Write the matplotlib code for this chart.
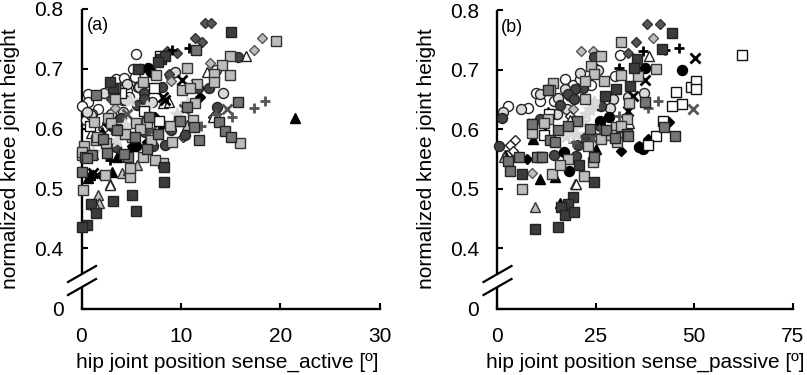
# plot.py
import matplotlib
matplotlib.use("Agg")
import matplotlib.pyplot as plt

plt.rcParams['font.family'] = ['Liberation Sans', 'DejaVu Sans']

# === Panel (a) data: hip joint position sense_active ===
a_wcirc_x = [5.5, 5.2, 3.5, 4.3, 5.4, 0.7, 0.7, 0.03, 1.7, 4.4, 4.6, 3.9, 4.8, 5.7, 13.5, 4.2, 8.9, 0.5, 1.1]
a_wcirc_y = [0.724, 0.700, 0.683, 0.684, 0.687, 0.658, 0.645, 0.638, 0.632, 0.670, 0.662, 0.653, 0.653, 0.670, 0.698, 0.648, 0.689, 0.615, 0.625]
a_lcirc_x = [9.4, 14.2, 2.3, 1.0, 4.6, 5.8, 4.2, 7.1, 4.4, 0.6, 3.0, 6.0]
a_lcirc_y = [0.694, 0.659, 0.659, 0.622, 0.675, 0.670, 0.628, 0.645, 0.648, 0.628, 0.625, 0.640]
a_dcirc_x = [15.8, 12.8, 11.7, 13.6, 8.15, 6.3, 6.3, 5.6, 4.0, 3.5, 8.4, 10.4, 9.0, 2.0, 6.4, 7.2]
a_dcirc_y = [0.719, 0.668, 0.668, 0.636, 0.669, 0.659, 0.649, 0.640, 0.617, 0.569, 0.572, 0.589, 0.597, 0.585, 0.595, 0.570]
a_bcirc_x = [6.7, 5.9, 7.0, 3.1, 5.5]
a_bcirc_y = [0.701, 0.700, 0.694, 0.605, 0.570]

a_ddiam_x = [12.4, 13.0, 11.4, 12.1, 9.6, 8.6, 8.8, 3.0]
a_ddiam_y = [0.776, 0.776, 0.751, 0.745, 0.726, 0.729, 0.692, 0.650]
a_ldiam_x = [18.2, 17.4, 12.9, 3.4, 5.7, 9.0]
a_ldiam_y = [0.752, 0.731, 0.710, 0.634, 0.640, 0.680]
a_wdiam_x = [13.2, 10.2, 6.4, 13.5, 2.2, 4.5]
a_wdiam_y = [0.620, 0.585, 0.615, 0.625, 0.600, 0.590]
a_bdiam_x = [11.9, 5.1, 6.6, 2.6, 1.0, 7.4]
a_bdiam_y = [0.653, 0.570, 0.578, 0.609, 0.604, 0.620]

a_btri_x = [21.5, 0.7, 3.05, 5.1, 5.2, 2.05, 8.2, 3.6, 0.9]
a_btri_y = [0.617, 0.517, 0.528, 0.572, 0.570, 0.595, 0.610, 0.552, 0.522]
a_gtri_x = [4.06, 1.7, 1.8, 2.9, 5.6, 1.2, 10.6, 4.7, 7.7]
a_gtri_y = [0.525, 0.489, 0.476, 0.508, 0.539, 0.558, 0.606, 0.530, 0.590]
a_wtri_x = [16.6, 8.25, 8.8, 12.6, 2.9, 1.0, 13.2, 1.4]
a_wtri_y = [0.721, 0.642, 0.645, 0.695, 0.505, 0.592, 0.620, 0.472]

a_bx_x = [10.1, 8.25, 8.4, 1.2, 1.6, 4.0]
a_bx_y = [0.681, 0.653, 0.648, 0.525, 0.522, 0.596]
a_gx_x = [14.6, 10.3, 4.6, 11.5, 7.0]
a_gx_y = [0.633, 0.633, 0.625, 0.675, 0.596]
a_bplus_x = [10.8, 9.1, 7.75, 2.9, 8.3]
a_bplus_y = [0.735, 0.731, 0.717, 0.547, 0.719]
a_gplus_x = [18.5, 17.4, 15.2, 12.0, 13.5]
a_gplus_y = [0.646, 0.634, 0.620, 0.604, 0.625]
a_star_x = [6.6, 4.4, 4.4, 9.6, 3.55, 1.2, 10.6, 4.9, 4.1]
a_star_y = [0.636, 0.606, 0.597, 0.625, 0.581, 0.561, 0.642, 0.648, 0.590]

a_wsq_x = [7.9, 0.87, 7.25, 6.3, 4.0, 7.8]
a_wsq_y = [0.721, 0.604, 0.667, 0.630, 0.660, 0.612]
a_lsq_x = [19.6, 14.9, 14.9, 14.1, 13.3, 10.6, 10.1, 11.4, 9.8, 16.0, 11.2, 9.1, 8.2, 7.35, 6.2, 4.9, 4.9, 2.4, 0.2, 0.3,
           0.03, 1.5, 1.3, 2.7, 3.4, 3.5, 6.6, 7.5, 6.2, 5.1, 5.5, 11.6, 13.3, 10.9, 0.1, 1.6, 4.4, 2.5, 5.9, 8.9, 3.0, 7.0]
a_lsq_y = [0.746, 0.721, 0.689, 0.706, 0.691, 0.701, 0.664, 0.643, 0.612, 0.576, 0.615, 0.577, 0.542, 0.547, 0.553, 0.519, 0.534, 0.522, 0.497, 0.571,
           0.556, 0.581, 0.611, 0.617, 0.649, 0.600, 0.610, 0.689, 0.678, 0.586, 0.610, 0.675, 0.678, 0.667, 0.560, 0.585, 0.590, 0.575, 0.600, 0.605, 0.610, 0.580]
a_msq_x = [15.8, 11.8, 13.8, 14.4, 15.0, 11.5, 1.5, 3.4, 5.4, 7.75, 6.6, 4.7, 2.55, 0.37, 0.03, 2.2, 3.55, 11.3, 9.9, 10.6, 1.1, 6.8, 4.3, 0.6]
a_msq_y = [0.644, 0.581, 0.611, 0.596, 0.586, 0.732, 0.656, 0.667, 0.586, 0.591, 0.565, 0.553, 0.559, 0.553, 0.527, 0.582, 0.598, 0.603, 0.613, 0.636, 0.555, 0.620, 0.558, 0.550]
a_dsq_x = [15.1, 8.32, 8.32, 5.07, 3.15, 5.47, 0.94, 1.44, 0.6, 0.03, 8.0, 5.7, 3.2, 2.9, 8.4, 7.7]
a_dsq_y = [0.762, 0.536, 0.510, 0.489, 0.479, 0.462, 0.473, 0.458, 0.438, 0.435, 0.717, 0.700, 0.667, 0.678, 0.722, 0.712]

# === Panel (b) data: hip joint position sense_passive ===
b_wcirc_x = [31.1, 30.0, 17.2, 10.9, 10.0, 7.9, 2.9, 19.3, 23.9, 21.0, 18.5, 14.5, 24.5]
b_wcirc_y = [0.724, 0.689, 0.684, 0.648, 0.660, 0.635, 0.639, 0.674, 0.674, 0.684, 0.655, 0.648, 0.702]
b_lcirc_x = [6.0, 1.6, 21.1, 25.6, 37.2, 33.2, 29.4, 28.7, 25.6, 17.3, 17.8, 15.1, 10.9, 15.5]
b_lcirc_y = [0.634, 0.628, 0.695, 0.699, 0.660, 0.654, 0.650, 0.636, 0.640, 0.668, 0.634, 0.625, 0.659, 0.653]
b_dcirc_x = [0.5, 1.3, 24.5, 21.8, 19.7, 18.0, 19.4, 15.9, 10.9, 20.5, 14.5, 20.1, 23.5, 26.0, 26.4, 22.0]
b_dcirc_y = [0.571, 0.619, 0.721, 0.669, 0.667, 0.659, 0.651, 0.641, 0.617, 0.574, 0.556, 0.555, 0.592, 0.606, 0.638, 0.585]
b_bcirc_x = [46.8, 37.5, 36.0, 37.0, 26.0, 28.5, 16.9, 18.2]
b_bcirc_y = [0.699, 0.702, 0.570, 0.566, 0.614, 0.620, 0.562, 0.529]

b_ddiam_x = [38.0, 41.2, 35.3, 33.2]
b_ddiam_y = [0.776, 0.776, 0.747, 0.727]
b_ldiam_x = [21.3, 24.2, 39.6, 8.75, 19.3]
b_ldiam_y = [0.732, 0.732, 0.753, 0.527, 0.634]
b_wdiam_x = [4.5, 3.3, 4.1, 2.6, 18.4]
b_wdiam_y = [0.582, 0.573, 0.564, 0.556, 0.622]
b_bdiam_x = [31.5, 43.5, 35.9, 38.2, 7.5]
b_bdiam_y = [0.564, 0.612, 0.572, 0.584, 0.550]

b_btri_x = [10.9, 2.0, 13.0, 9.2, 14.6, 15.9, 25.2, 12.1]
b_btri_y = [0.517, 0.556, 0.629, 0.584, 0.520, 0.476, 0.567, 0.595]
b_gtri_x = [9.6, 19.7, 12.7, 1.8]
b_gtri_y = [0.469, 0.508, 0.625, 0.553]
b_wtri_x = [38.5, 18.4, 20.0, 33.5]
b_wtri_y = [0.722, 0.616, 0.508, 0.610]

b_bx_x = [50.1, 37.5, 34.4, 33.3]
b_bx_y = [0.719, 0.683, 0.655, 0.631]
b_gx_x = [49.7, 26.9, 24.0]
b_gx_y = [0.634, 0.598, 0.585]
b_bplus_x = [46.2, 42.6, 37.1, 30.8]
b_bplus_y = [0.736, 0.733, 0.732, 0.702]
b_gplus_x = [40.9, 38.2, 30.9, 19.3, 26.0]
b_gplus_y = [0.648, 0.635, 0.622, 0.578, 0.592]
b_star_x = [23.5, 24.7, 22.6, 18.9, 20.1, 24.0, 21.8, 17.5]
b_star_y = [0.634, 0.645, 0.625, 0.600, 0.592, 0.640, 0.612, 0.588]

b_wsq_x = [62.0, 45.4, 49.2, 50.3, 50.3, 47.0, 44.4, 42.0, 40.3, 38.2, 13.2, 12.0]
b_wsq_y = [0.724, 0.663, 0.670, 0.680, 0.667, 0.643, 0.638, 0.614, 0.589, 0.574, 0.625, 0.590]
b_lsq_x = [14.2, 31.4, 26.3, 23.9, 24.7, 27.0, 22.2, 22.2, 13.4, 40.3, 35.7, 31.3, 33.4, 32.9, 30.2, 30.5, 26.4, 23.1, 13.0,
           8.75, 8.75, 14.0, 18.0, 15.9, 22.0, 6.4, 24.3, 10.9, 29.0, 31.5, 11.8]
b_lsq_y = [0.677, 0.747, 0.723, 0.706, 0.692, 0.680, 0.680, 0.651, 0.665, 0.701, 0.690, 0.691, 0.644, 0.617, 0.603, 0.578, 0.584, 0.572, 0.617,
           0.609, 0.593, 0.524, 0.550, 0.539, 0.521, 0.500, 0.545, 0.553, 0.590, 0.605, 0.610]
b_msq_x = [45.2, 42.3, 37.6, 20.3, 15.5, 13.4, 2.9, 3.3, 5.6, 10.2, 11.5, 24.7, 33.0, 23.5, 8.8, 13.0, 18.0, 27.5, 30.0, 14.6, 33.2]
b_msq_y = [0.588, 0.604, 0.646, 0.613, 0.599, 0.582, 0.546, 0.529, 0.553, 0.553, 0.554, 0.554, 0.592, 0.600, 0.609, 0.665, 0.605, 0.598, 0.585, 0.578, 0.588]
b_dsq_x = [44.4, 41.8, 35.4, 34.8, 33.8, 30.2, 24.5, 20.8, 19.3, 18.0, 16.3, 17.2, 19.5, 15.5, 9.6, 27.3, 6.4]
b_dsq_y = [0.762, 0.735, 0.718, 0.702, 0.672, 0.668, 0.512, 0.539, 0.486, 0.475, 0.469, 0.456, 0.461, 0.436, 0.433, 0.656, 0.525]

# === Style for each series, back to front ===
DARK = '#3c3c3c'
MID = '#757575'
LIGHT = '#bdbdbd'
PALE = '#d9d9d9'
styles = {
    'wcirc': ('o', 'white', '#222222', 7.2), 'lcirc': ('o', PALE, '#222222', 7.2),
    'ddiam': ('D', '#555555', '#333333', 5.0), 'ldiam': ('D', LIGHT, '#555555', 5.0),
    'wdiam': ('D', 'white', '#222222', 5.0), 'bdiam': ('D', 'black', 'black', 5.0),
    'btri': ('^', 'black', 'black', 7.0), 'gtri': ('^', LIGHT, '#333333', 7.0), 'wtri': ('^', 'white', '#222222', 7.0),
    'dcirc': ('o', '#444444', '#222222', 7.2), 'bcirc': ('o', 'black', 'black', 7.2),
    'bx': ('x', 'none', 'black', 6.8), 'gx': ('x', 'none', '#555555', 6.8),
    'bplus': ('+', 'none', 'black', 6.8), 'gplus': ('+', 'none', '#555555', 6.8),
    'star': ('*', PALE, PALE, 10.5),
    'wsq': ('s', 'white', '#111111', 6.8), 'lsq': ('s', LIGHT, '#333333', 6.8),
    'msq': ('s', MID, '#222222', 6.8), 'dsq': ('s', DARK, '#222222', 6.8),
}
order = ['wcirc', 'lcirc', 'ddiam', 'ldiam', 'wdiam', 'bdiam', 'btri', 'gtri', 'wtri',
         'dcirc', 'bcirc', 'bx', 'gx', 'bplus', 'gplus', 'star', 'wsq', 'lsq', 'msq', 'dsq']

data_a = {'wcirc': (a_wcirc_x, a_wcirc_y), 'lcirc': (a_lcirc_x, a_lcirc_y), 'dcirc': (a_dcirc_x, a_dcirc_y),
          'bcirc': (a_bcirc_x, a_bcirc_y), 'ddiam': (a_ddiam_x, a_ddiam_y), 'ldiam': (a_ldiam_x, a_ldiam_y),
          'wdiam': (a_wdiam_x, a_wdiam_y), 'bdiam': (a_bdiam_x, a_bdiam_y), 'btri': (a_btri_x, a_btri_y),
          'gtri': (a_gtri_x, a_gtri_y), 'wtri': (a_wtri_x, a_wtri_y), 'bx': (a_bx_x, a_bx_y), 'gx': (a_gx_x, a_gx_y),
          'bplus': (a_bplus_x, a_bplus_y), 'gplus': (a_gplus_x, a_gplus_y), 'star': (a_star_x, a_star_y),
          'wsq': (a_wsq_x, a_wsq_y), 'lsq': (a_lsq_x, a_lsq_y), 'msq': (a_msq_x, a_msq_y), 'dsq': (a_dsq_x, a_dsq_y)}
data_b = {'wcirc': (b_wcirc_x, b_wcirc_y), 'lcirc': (b_lcirc_x, b_lcirc_y), 'dcirc': (b_dcirc_x, b_dcirc_y),
          'bcirc': (b_bcirc_x, b_bcirc_y), 'ddiam': (b_ddiam_x, b_ddiam_y), 'ldiam': (b_ldiam_x, b_ldiam_y),
          'wdiam': (b_wdiam_x, b_wdiam_y), 'bdiam': (b_bdiam_x, b_bdiam_y), 'btri': (b_btri_x, b_btri_y),
          'gtri': (b_gtri_x, b_gtri_y), 'wtri': (b_wtri_x, b_wtri_y), 'bx': (b_bx_x, b_bx_y), 'gx': (b_gx_x, b_gx_y),
          'bplus': (b_bplus_x, b_bplus_y), 'gplus': (b_gplus_x, b_gplus_y), 'star': (b_star_x, b_star_y),
          'wsq': (b_wsq_x, b_wsq_y), 'lsq': (b_lsq_x, b_lsq_y), 'msq': (b_msq_x, b_msq_y), 'dsq': (b_dsq_x, b_dsq_y)}

W, H = 807, 375
fig = plt.figure(figsize=(W / 100, H / 100), dpi=100)


def panel(box, data, xmax, xticks, xlabel, tag, tag_xy, ylabel_x, xlabel_x):
    left, top, right, bottom = box
    ax = fig.add_axes([left / W, 1 - bottom / H, (right - left) / W, (bottom - top) / H])

    for name in order:
        marker, face, edge, size = styles[name]
        x, y = data[name]
        lw = 2.0 if marker in 'x+' else 1.0
        ax.plot(x, y, linestyle='none', marker=marker, markerfacecolor=face, markeredgecolor=edge,
                markersize=size, markeredgewidth=lw, clip_on=False, zorder=3)

    ax.set_xlim(0, xmax)
    ax.set_ylim(0.298, 0.8)
    ax.set_xticks(xticks)
    ax.set_yticks([0.298, 0.4, 0.5, 0.6, 0.7, 0.8])
    ax.set_yticklabels(['0', '0.4', '0.5', '0.6', '0.7', '0.8'])
    ax.tick_params(direction='in', length=4.5, width=1.5, labelsize=15, color='black')
    ax.tick_params(axis='y', pad=13)
    ax.tick_params(axis='x', pad=13)
    ax.spines['top'].set_visible(False)
    ax.spines['right'].set_visible(False)
    ax.spines['left'].set_visible(False)
    ax.spines['bottom'].set_linewidth(1.7)

    # broken y axis, drawn in axes fractions
    h = bottom - top
    w = right - left
    for y0, y1 in [(1.0, (bottom - 274) / h), ((bottom - 287) / h, 0.0)]:
        ax.plot([0, 0], [y0, y1], color='black', lw=1.7, transform=ax.transAxes, clip_on=False,
                solid_capstyle='butt', zorder=2)
    for off in (0, 13):
        ax.plot([-13.5 / w, 14.5 / w], [(bottom - 282 - off) / h, (bottom - 266 - off) / h], color='black', lw=1.6,
                transform=ax.transAxes, clip_on=False, zorder=2)

    fig.text(xlabel_x / W, 1 - 362 / H, xlabel, fontsize=15, ha='center', va='center')
    fig.text(ylabel_x / W, 1 - 159 / H, 'normalized knee joint height', fontsize=15, rotation=90,
             ha='center', va='center')
    fig.text(tag_xy[0] / W, 1 - tag_xy[1] / H, tag, fontsize=13, ha='left', va='center')


panel((81.5, 9, 379.5, 309), data_a, 30, [0, 10, 20, 30], 'hip joint position sense_active [º]', '(a)', (87, 25), 11, 227)
panel((497, 10, 793, 309), data_b, 75, [0, 25, 50, 75], 'hip joint position sense_passive [º]', '(b)', (501, 27), 427, 645)

plt.savefig('out.png', dpi=100)
plt.close()
